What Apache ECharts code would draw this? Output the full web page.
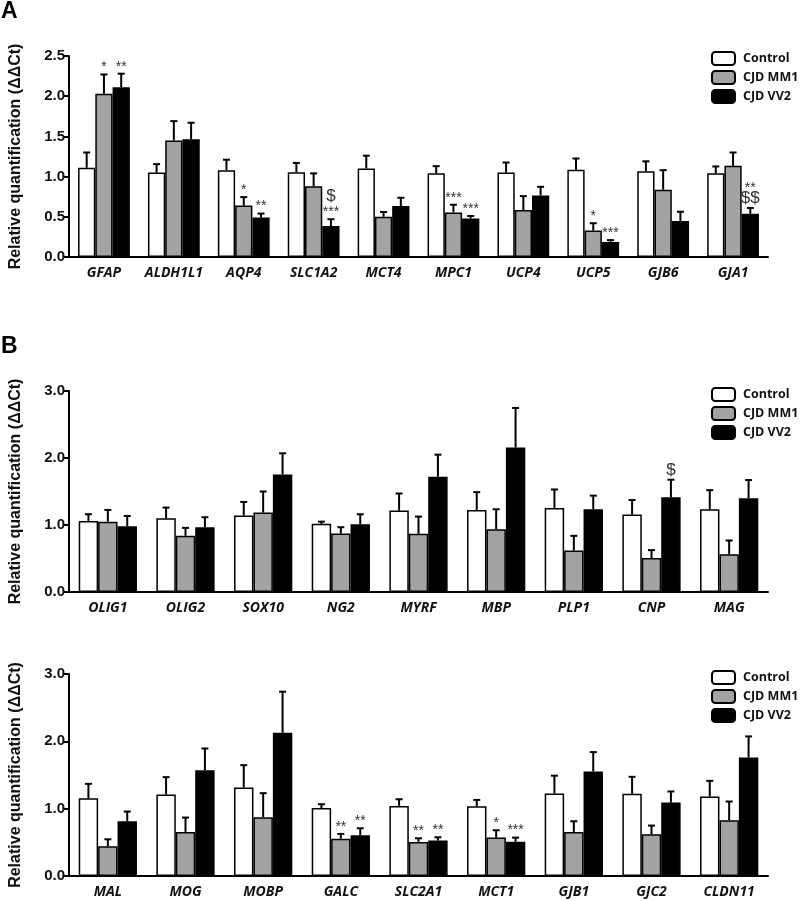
<!DOCTYPE html>
<html>
<head>
<meta charset="utf-8">
<script src="https://cdn.jsdelivr.net/npm/echarts@6/dist/echarts.min.js"></script>
<style>html,body{margin:0;padding:0;background:#fff}#c{width:800px;height:901px}</style>
</head>
<body>
<div id="c"></div>
<script>
// ---------- DATA ----------
const seriesNames = ['Control', 'CJD MM1', 'CJD VV2'];

const catsA = ['GFAP','ALDH1L1','AQP4','SLC1A2','MCT4','MPC1','UCP4','UCP5','GJB6','GJA1'];
const ctrlA = [1.11, 1.05, 1.08, 1.055, 1.10, 1.043, 1.05, 1.085, 1.068, 1.043];
const mm1A  = [2.03, 1.45, 0.64, 0.88, 0.50, 0.555, 0.584, 0.33, 0.836, 1.134];
const vv2A  = [2.11, 1.465, 0.49, 0.385, 0.633, 0.48, 0.766, 0.186, 0.447, 0.538];
const ctrlSemA = [0.19, 0.105, 0.13, 0.115, 0.16, 0.087, 0.125, 0.14, 0.122, 0.083];
const mm1SemA  = [0.24, 0.24, 0.105, 0.16, 0.06, 0.095, 0.173, 0.09, 0.244, 0.166];
const vv2SemA  = [0.17, 0.205, 0.05, 0.085, 0.104, 0.03, 0.107, 0.024, 0.116, 0.072];
// [category index, series index, text, stack level]
const annotA = [[0,1,'*',0],[0,2,'**',0],[2,1,'*',0],[2,2,'**',0],[3,2,'***',0],[3,2,'$',1],
                [5,1,'***',0],[5,2,'***',0],[7,1,'*',0],[7,2,'***',0],[9,2,'$$',0],[9,2,'**',1]];

const catsB = ['OLIG1','OLIG2','SOX10','NG2','MYRF','MBP','PLP1','CNP','MAG'];
const ctrlB = [1.061, 1.10, 1.14, 1.017, 1.215, 1.225, 1.255, 1.155, 1.235];
const mm1B  = [1.05, 0.84, 1.185, 0.873, 0.868, 0.937, 0.62, 0.506, 0.565];
const vv2B  = [0.98, 0.967, 1.755, 1.01, 1.72, 2.157, 1.235, 1.413, 1.398];
const ctrlSemB = [0.10, 0.16, 0.204, 0.033, 0.255, 0.265, 0.275, 0.218, 0.285];
const mm1SemB  = [0.175, 0.117, 0.315, 0.094, 0.258, 0.298, 0.218, 0.119, 0.204];
const vv2SemB  = [0.155, 0.149, 0.315, 0.15, 0.33, 0.59, 0.203, 0.263, 0.273];
const annotB = [[7,2,'$',0]];

const catsC = ['MAL','MOG','MOBP','GALC','SLC2A1','MCT1','GJB1','GJC2','CLDN11'];
const ctrlC = [1.155, 1.21, 1.314, 1.01, 1.041, 1.036, 1.225, 1.22, 1.18];
const mm1C  = [0.441, 0.655, 0.873, 0.555, 0.506, 0.57, 0.655, 0.62, 0.828];
const vv2C  = [0.813, 1.572, 2.127, 0.605, 0.526, 0.51, 1.552, 1.09, 1.76];
const ctrlSemC = [0.214, 0.258, 0.332, 0.056, 0.099, 0.094, 0.265, 0.253, 0.233];
const mm1SemC  = [0.104, 0.213, 0.357, 0.07, 0.054, 0.11, 0.158, 0.129, 0.278];
const vv2SemC  = [0.144, 0.322, 0.61, 0.104, 0.049, 0.06, 0.288, 0.165, 0.313];
const annotC = [[3,1,'**',0],[3,2,'**',0],[4,1,'**',0],[4,2,'**',0],[5,1,'*',0],[5,2,'***',0]];

const yTicksA = {min: 0, max: 2.5, interval: 0.5};
const yTicksBC = {min: 0, max: 3.0, interval: 1.0};

// ---------- CHART ----------
const colors = ['#ffffff', '#a3a3a3', '#000000'];
const panels = [
  {cats: catsA, means: [ctrlA, mm1A, vv2A], sems: [ctrlSemA, mm1SemA, vv2SemA], annot: annotA, y: yTicksA, top: 56, height: 201, bw: 0.247, legendTop: 46},
  {cats: catsB, means: [ctrlB, mm1B, vv2B], sems: [ctrlSemB, mm1SemB, vv2SemB], annot: annotB, y: yTicksBC, top: 391, height: 201, bw: 0.25, legendTop: 382},
  {cats: catsC, means: [ctrlC, mm1C, vv2C], sems: [ctrlSemC, mm1SemC, vv2SemC], annot: annotC, y: yTicksBC, top: 674, height: 202, bw: 0.25, legendTop: 665}
];

const grid = [], xAxis = [], yAxis = [], series = [], legend = [];
panels.forEach((p, k) => {
  grid.push({left: 57, right: 32, top: p.top, height: p.height});
  xAxis.push({
    type: 'category', gridIndex: k, data: p.cats,
    axisLine: {lineStyle: {color: '#000', width: 2}},
    axisTick: {alignWithLabel: true, length: 5, lineStyle: {color: '#000', width: 2}},
    axisLabel: {interval: 0, color: '#111', fontFamily: 'Open Sans', fontWeight: 'bold', fontStyle: 'italic', fontSize: 14, margin: 9}
  });
  yAxis.push({
    type: 'value', gridIndex: k, min: p.y.min, max: p.y.max, interval: p.y.interval,
    name: 'Relative quantification (ΔΔCt)', nameLocation: 'middle', nameGap: 45,
    nameTextStyle: {color: '#111', fontFamily: 'Liberation Sans', fontWeight: 'bold', fontSize: 16},
    splitLine: {show: false},
    axisLine: {show: true, lineStyle: {color: '#000', width: 2}},
    axisTick: {show: true, length: 5, lineStyle: {color: '#000', width: 2}},
    axisLabel: {color: '#111', fontFamily: 'Liberation Sans', fontWeight: 'bold', fontSize: 15, margin: 4,
      formatter: v => v.toFixed(1)}
  });
  p.means.forEach((arr, s) => {
    series.push({
      type: 'bar', name: seriesNames[s], xAxisIndex: k, yAxisIndex: k,
      data: arr, barWidth: (p.bw * 100) + '%', barGap: '0%',
      itemStyle: {color: colors[s], borderColor: '#000', borderWidth: 1.5},
      emphasis: {disabled: true}, z: 2
    });
  });
  const errData = [];
  p.cats.forEach((c, i) => {
    for (let s = 0; s < 3; s++) errData.push([i, s, p.means[s][i], p.means[s][i] + p.sems[s][i]]);
  });
  const bw = p.bw;
  series.push({
    type: 'custom', xAxisIndex: k, yAxisIndex: k, data: errData, z: 3, silent: true,
    encode: {x: 0, y: [2, 3]},
    renderItem: (params, api) => {
      const cat = api.value(0), s = api.value(1);
      const w = api.size([1, 0])[0] * bw;
      const p0 = api.coord([cat, api.value(2)]);
      const p1 = api.coord([cat, api.value(3)]);
      const x = p0[0] + (s - 1) * w;
      return {type: 'group', children: [
        {type: 'line', shape: {x1: x, y1: p0[1], x2: x, y2: p1[1]}, style: {stroke: '#000', lineWidth: 2}},
        {type: 'line', shape: {x1: x - 3.5, y1: p1[1], x2: x + 3.5, y2: p1[1]}, style: {stroke: '#000', lineWidth: 2}}
      ]};
    }
  });
  const ann = p.annot;
  series.push({
    type: 'custom', xAxisIndex: k, yAxisIndex: k, z: 4, silent: true,
    data: ann.map(a => [a[0], a[1], p.means[a[1]][a[0]] + p.sems[a[1]][a[0]], a[3]]),
    encode: {x: 0, y: 2},
    renderItem: (params, api) => {
      const a = ann[params.dataIndex];
      const cat = api.value(0), s = api.value(1), lvl = api.value(3);
      const w = api.size([1, 0])[0] * bw;
      const pt = api.coord([cat, api.value(2)]);
      const x = pt[0] + (s - 1) * w;
      const isDollar = a[2].indexOf('$') >= 0;
      return {type: 'text', x: x, y: pt[1] - (isDollar ? 1 : 0) - lvl * 13,
        style: {text: a[2], fill: '#333', font: (isDollar ? '17px' : '14px') + ' "Liberation Sans", Arial, sans-serif',
          textAlign: 'center', textVerticalAlign: 'bottom'}};
    }
  });
  legend.push({
    left: 706, top: p.legendTop, orient: 'vertical', itemWidth: 23, itemHeight: 13, itemGap: 4,
    data: seriesNames, selectedMode: false,
    textStyle: {color: '#111', fontFamily: 'Open Sans', fontWeight: 'bold', fontSize: 12.5, padding: [0, 0, 0, 3]}
  });
});

const chart = echarts.init(document.getElementById('c'), null, {renderer: 'canvas'});
chart.setOption({
  animation: false,
  backgroundColor: '#fff',
  grid, xAxis, yAxis, series, legend,
  graphic: [
    {type: 'text', left: 1, top: 0, style: {text: 'A', font: 'bold 23px "Liberation Sans", Arial', fill: '#000'}},
    {type: 'text', left: 1, top: 335, style: {text: 'B', font: 'bold 23px "Liberation Sans", Arial', fill: '#000'}}
  ]
});
</script>
</body>
</html>
